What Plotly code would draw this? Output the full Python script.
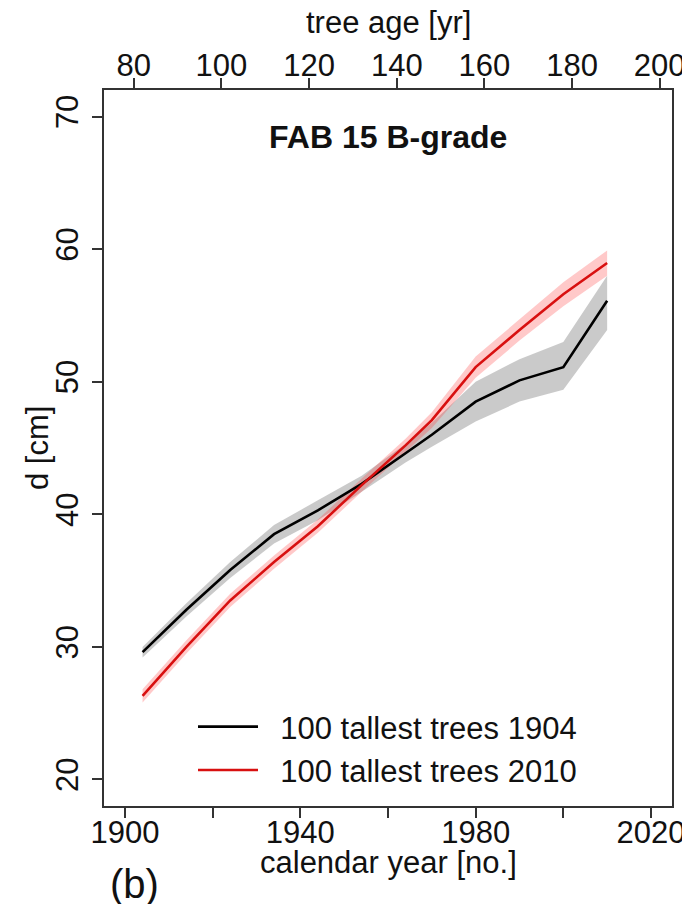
import plotly.graph_objects as go

# ---- data ----
years = [1904, 1914, 1924, 1934, 1944, 1954, 1964, 1970, 1980, 1990, 2000, 2010]

d_1904 = [29.6, 32.8, 35.8, 38.5, 40.3, 42.3, 44.6, 46.0, 48.5, 50.1, 51.1, 56.1]
d_1904_lo = [29.2, 32.3, 35.2, 37.8, 39.55, 41.7, 43.9, 45.1, 47.0, 48.5, 49.4, 53.9]
d_1904_hi = [30.0, 33.3, 36.4, 39.2, 41.05, 42.9, 45.3, 46.9, 50.0, 51.7, 53.0, 58.0]

d_2010 = [26.3, 30.0, 33.5, 36.4, 39.1, 42.2, 45.2, 47.1, 51.1, 53.9, 56.6, 58.95]
d_2010_lo = [25.8, 29.5, 33.0, 35.9, 38.6, 41.7, 44.7, 46.5, 50.3, 53.1, 55.7, 58.0]
d_2010_hi = [26.8, 30.5, 34.0, 36.9, 39.6, 42.7, 45.7, 47.7, 51.9, 54.7, 57.5, 59.9]

x_ticks = [1900, 1920, 1940, 1960, 1980, 2000, 2020]
x_tick_labels = ["1900", "", "1940", "", "1980", "", "2020"]
age_ticks = [80, 100, 120, 140, 160, 180, 200]
y_ticks = [20, 30, 40, 50, 60, 70]
age_offset = 1822  # calendar year - tree age

x_range = [1895.2, 2024.8]
y_range = [18, 72]

FONT = "Liberation Sans, Arial, sans-serif"
FS = 31
AX = "#333333"
TXT = "#111111"

# page geometry: the figure div sits 8 px in from the page corner
OFF = 8
W, H = 690 - OFF, 904 - OFF
# plot-area edges in screen pixels
L, R, T, B = 104, 672, 90, 806
PW, PH = R - L, B - T


def px_x(x):
    return (x - L) / PW


def px_y(y):
    return (B - y) / PH


fig = go.Figure()

fig.add_trace(go.Scatter(
    x=years + years[::-1], y=d_1904_hi + d_1904_lo[::-1],
    fill="toself", fillcolor="rgba(150,150,150,0.5)", line=dict(width=0),
    mode="lines", showlegend=False, hoverinfo="skip"))
fig.add_trace(go.Scatter(
    x=years + years[::-1], y=d_2010_hi + d_2010_lo[::-1],
    fill="toself", fillcolor="rgba(255,60,60,0.28)", line=dict(width=0),
    mode="lines", showlegend=False, hoverinfo="skip"))
fig.add_trace(go.Scatter(
    x=years, y=d_1904, mode="lines", line=dict(color="black", width=2.6),
    name="\u00a0\u00a0100 tallest trees 1904"))
fig.add_trace(go.Scatter(
    x=years, y=d_2010, mode="lines", line=dict(color="#d81010", width=2.6),
    name="\u00a0\u00a0100 tallest trees 2010"))
# invisible trace that activates the top (tree age) axis
fig.add_trace(go.Scatter(
    x=[y - age_offset for y in years], y=d_1904, xaxis="x2", yaxis="y",
    mode="lines", line=dict(width=0, color="rgba(0,0,0,0)"),
    showlegend=False, hoverinfo="skip"))

axis_common = dict(
    showgrid=False, zeroline=False, showline=True, automargin=False,
    linecolor=AX, linewidth=1.6, ticks="outside", ticklen=10,
    tickwidth=1.6, tickcolor=AX, tickfont=dict(size=FS, color=TXT),
)

fig.update_layout(
    width=W, height=H, autosize=False,
    margin=dict(l=L - OFF, r=W - (R - OFF), t=T - OFF, b=H - (B - OFF), pad=0),
    paper_bgcolor="white", plot_bgcolor="white",
    font=dict(family=FONT, size=FS, color=TXT),
    xaxis=dict(range=x_range, tickvals=x_ticks, ticktext=x_tick_labels,
               mirror=True, ticklabelstandoff=-12, **axis_common),
    xaxis2=dict(overlaying="x", side="top", anchor="y",
                range=[x_range[0] - age_offset, x_range[1] - age_offset],
                tickvals=age_ticks, ticklabelstandoff=-10, **axis_common),
    yaxis=dict(range=y_range, tickvals=y_ticks, tickangle=-90,
               mirror=True, ticklabelstandoff=2, **axis_common),
    legend=dict(
        x=px_x(193), y=px_y(700), xanchor="left", yanchor="top",
        bgcolor="rgba(0,0,0,0)", font=dict(size=FS, color=TXT), itemwidth=60,
        tracegroupgap=0,
    ),
    annotations=[
        dict(text="<b>FAB 15 B-grade</b>", xref="paper", yref="paper",
             x=0.5, y=px_y(137), xanchor="center", yanchor="middle",
             showarrow=False, font=dict(size=32, color=TXT)),
        dict(text="calendar year [no.]", xref="paper", yref="paper",
             x=0.5, y=px_y(862), xanchor="center", yanchor="middle",
             showarrow=False, font=dict(size=FS, color=TXT)),
        dict(text="tree age [yr]", xref="paper", yref="paper",
             x=0.5, y=px_y(22), xanchor="center", yanchor="middle",
             showarrow=False, font=dict(size=FS, color=TXT)),
        dict(text="d [cm]", xref="paper", yref="paper", textangle=-90,
             x=px_x(37), y=0.5, xanchor="center", yanchor="middle",
             showarrow=False, font=dict(size=FS, color=TXT)),
        dict(text="(b)", xref="paper", yref="paper",
             x=px_x(134), y=px_y(884), xanchor="center", yanchor="middle",
             showarrow=False, font=dict(size=40, color=TXT)),
    ],
)

# hide page scrollbars so the full 690 px width stays visible
fig.write_html(
    "out.html",
    post_script="document.documentElement.style.overflow='hidden';"
                "document.body.style.overflow='hidden';",
)
